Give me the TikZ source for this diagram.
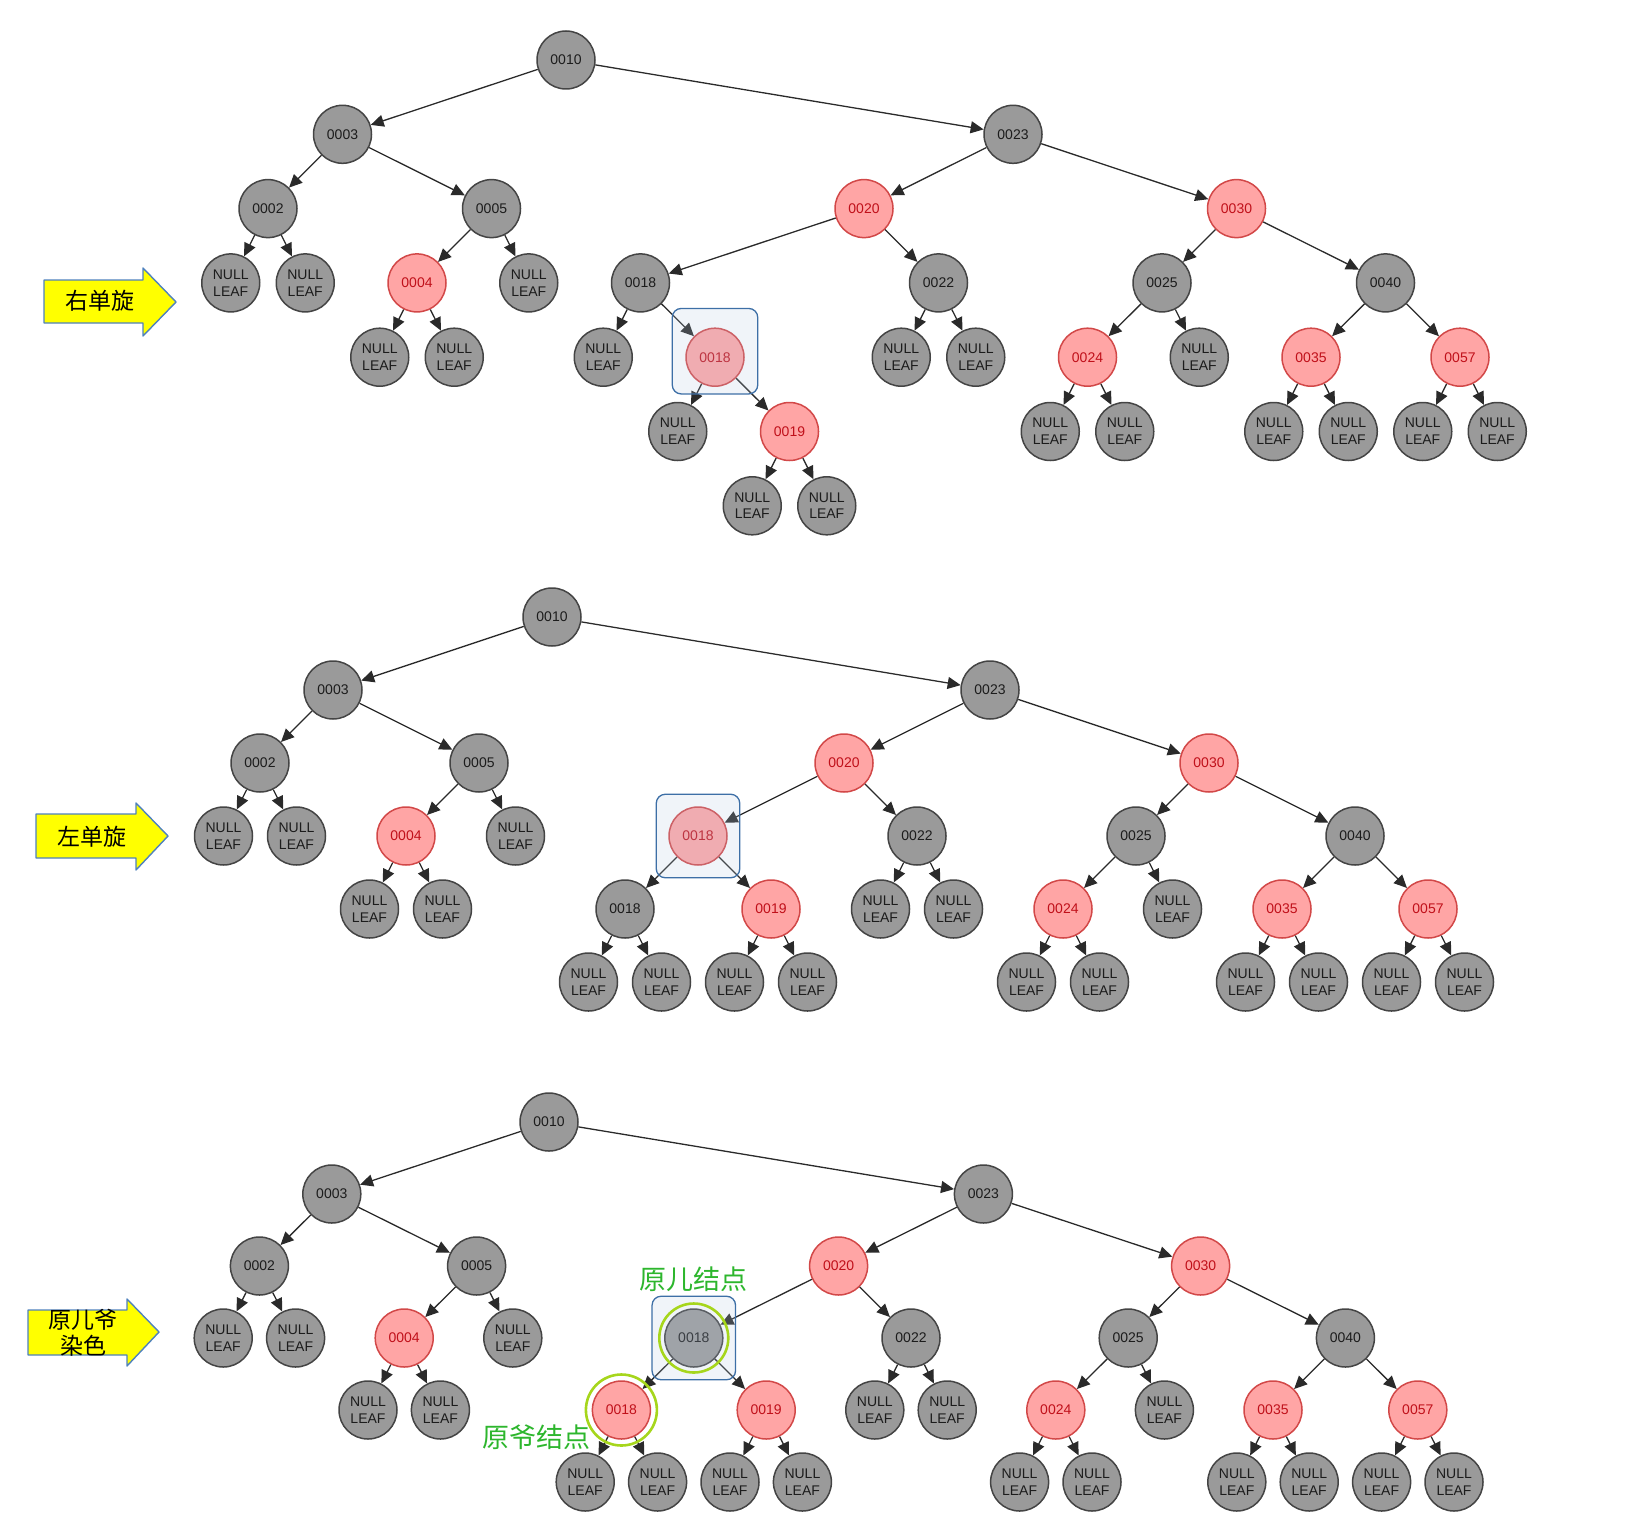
\documentclass[tikz,border=0pt]{standalone}
\usepackage{fontspec}
\setmainfont{Liberation Sans}
\newfontfamily\cjk{Noto Sans CJK SC}
\usetikzlibrary{arrows.meta,fit}
\definecolor{nodegray}{HTML}{9A9A9A}
\definecolor{graydraw}{HTML}{444444}
\definecolor{graytext}{HTML}{1C1C1C}
\definecolor{nodered}{HTML}{FFA5A5}
\definecolor{reddraw}{HTML}{D24848}
\definecolor{redtext}{HTML}{C0101A}
\definecolor{edgecol}{HTML}{2A2A2A}
\definecolor{arrowyellow}{HTML}{FFFF00}
\definecolor{arrowblue}{HTML}{4F81BD}
\definecolor{boxblue}{HTML}{3D6FA6}
\definecolor{boxfill}{HTML}{B4C8E2}
\definecolor{ringgreen}{HTML}{A6D61C}
\definecolor{notegreen}{HTML}{2DB62D}
\tikzset{
  rbnode/.style={circle, minimum size=58pt, inner sep=0pt, line width=1.5pt,
    align=center, font=\fontsize{14}{16.7}\selectfont},
  blacknode/.style={rbnode, draw=graydraw, fill=nodegray, text=graytext},
  rednode/.style={rbnode, draw=reddraw, fill=nodered, text=redtext},
  edge/.style={draw=edgecol, line width=1.3pt, -{Triangle[length=13pt,width=12pt]}},
  turnarrow/.style={draw=arrowblue, fill=arrowyellow, line width=1.4pt},
  turnlabel/.style={font=\cjk\fontsize{23}{26}\selectfont, align=center, inner sep=0pt},
  hlbox/.style={draw=boxblue, line width=1.3pt, fill=boxfill, fill opacity=0.2,
    rounded corners=9pt, inner sep=13pt},
  ring/.style={draw=ringgreen, line width=2.6pt, circle, inner sep=0pt},
  note/.style={font=\cjk\fontsize{27}{30}\selectfont, text=notegreen, inner sep=0pt}
}
\begin{document}
\begin{tikzpicture}[x=1pt, y=-1pt, line join=round]
\useasboundingbox (0,0) rectangle (1632,1536);

% tree 1: right rotation
\draw[turnarrow] (44,280) -- (143,280) -- (143,268) -- (176,302) -- (143,336)
  -- (143,323) -- (44,323) -- cycle;
\node[turnlabel] (rot1) at (100,301) {右单旋};
\begin{scope}[shift={(193.5,60)}, x=37.25pt, y=-74.3pt]
  \foreach \col/\lev/\sty/\txt in {10/0/blacknode/0010, 4/1/blacknode/0003,
      22/1/blacknode/0023, 2/2/blacknode/0002, 8/2/blacknode/0005,
      18/2/rednode/0020, 28/2/rednode/0030, 6/3/rednode/0004,
      12/3/blacknode/0018, 20/3/blacknode/0022, 26/3/blacknode/0025,
      32/3/blacknode/0040, 14/4/rednode/0018, 24/4/rednode/0024,
      30/4/rednode/0035, 34/4/rednode/0057, 16/5/rednode/0019} {
    \node[\sty] (a\col) at (\col,\lev) {\txt};
  }
  \foreach \col/\lev in {1/3, 3/3, 9/3, 5/4, 7/4, 11/4, 19/4, 21/4, 27/4,
      13/5, 23/5, 25/5, 29/5, 31/5, 33/5, 35/5, 15/6, 17/6} {
    \node[blacknode] (a\col) at (\col,\lev) {NULL\\LEAF};
  }
  \foreach \p/\q in {10/4, 10/22, 4/2, 4/8, 2/1, 2/3, 8/6, 8/9, 6/5, 6/7,
      22/18, 22/28, 18/12, 18/20, 12/11, 12/14, 14/13, 14/16, 16/15, 16/17,
      20/19, 20/21, 28/26, 28/32, 26/24, 26/27, 24/23, 24/25, 32/30, 32/34,
      30/29, 30/31, 34/33, 34/35} {
    \draw[edge] (a\p) -- (a\q);
  }
  \node[hlbox, fit=(a14), yshift=6pt] (box1) {};
\end{scope}

% tree 2: left rotation
\draw[turnarrow] (36,814) -- (136,814) -- (136,803) -- (168,836) -- (136,870)
  -- (136,858) -- (36,858) -- cycle;
\node[turnlabel] (rot2) at (92,837) {左单旋};
\begin{scope}[shift={(187,617)}, x=36.5pt, y=-73pt]
  \foreach \col/\lev/\sty/\txt in {10/0/blacknode/0010, 4/1/blacknode/0003,
      22/1/blacknode/0023, 2/2/blacknode/0002, 8/2/blacknode/0005,
      18/2/rednode/0020, 28/2/rednode/0030, 6/3/rednode/0004,
      14/3/rednode/0018, 20/3/blacknode/0022, 26/3/blacknode/0025,
      32/3/blacknode/0040, 12/4/blacknode/0018, 16/4/rednode/0019,
      24/4/rednode/0024, 30/4/rednode/0035, 34/4/rednode/0057} {
    \node[\sty] (b\col) at (\col,\lev) {\txt};
  }
  \foreach \col/\lev in {1/3, 3/3, 9/3, 5/4, 7/4, 19/4, 21/4, 27/4,
      11/5, 13/5, 15/5, 17/5, 23/5, 25/5, 29/5, 31/5, 33/5, 35/5} {
    \node[blacknode] (b\col) at (\col,\lev) {NULL\\LEAF};
  }
  \foreach \p/\q in {10/4, 10/22, 4/2, 4/8, 2/1, 2/3, 8/6, 8/9, 6/5, 6/7,
      22/18, 22/28, 18/14, 18/20, 14/12, 14/16, 12/11, 12/13, 16/15, 16/17,
      20/19, 20/21, 28/26, 28/32, 26/24, 26/27, 24/23, 24/25, 32/30, 32/34,
      30/29, 30/31, 34/33, 34/35} {
    \draw[edge] (b\p) -- (b\q);
  }
  \node[hlbox, fit=(b14), inner sep=12pt] (box2) {};
\end{scope}

% tree 3: recolour
\draw[turnarrow] (28,1310) -- (127,1310) -- (127,1299) -- (159,1332) -- (127,1366)
  -- (127,1355) -- (28,1355) -- cycle;
\node[turnlabel] (rot3) at (83,1333) {原儿爷\\染色};
\begin{scope}[shift={(187,1122)}, x=36.2pt, y=-72pt]
  \foreach \col/\lev/\sty/\txt in {10/0/blacknode/0010, 4/1/blacknode/0003,
      22/1/blacknode/0023, 2/2/blacknode/0002, 8/2/blacknode/0005,
      18/2/rednode/0020, 28/2/rednode/0030, 6/3/rednode/0004,
      14/3/blacknode/0018, 20/3/blacknode/0022, 26/3/blacknode/0025,
      32/3/blacknode/0040, 12/4/rednode/0018, 16/4/rednode/0019,
      24/4/rednode/0024, 30/4/rednode/0035, 34/4/rednode/0057} {
    \node[\sty] (c\col) at (\col,\lev) {\txt};
  }
  \foreach \col/\lev in {1/3, 3/3, 9/3, 5/4, 7/4, 19/4, 21/4, 27/4,
      11/5, 13/5, 15/5, 17/5, 23/5, 25/5, 29/5, 31/5, 33/5, 35/5} {
    \node[blacknode] (c\col) at (\col,\lev) {NULL\\LEAF};
  }
  \foreach \p/\q in {10/4, 10/22, 4/2, 4/8, 2/1, 2/3, 8/6, 8/9, 6/5, 6/7,
      22/18, 22/28, 18/14, 18/20, 14/12, 14/16, 12/11, 12/13, 16/15, 16/17,
      20/19, 20/21, 28/26, 28/32, 26/24, 26/27, 24/23, 24/25, 32/30, 32/34,
      30/29, 30/31, 34/33, 34/35} {
    \draw[edge] (c\p) -- (c\q);
  }
  \node[hlbox, fit=(c14), inner sep=12pt] (box3) {};
  \node[ring, minimum size=69pt] (ring1) at (c14) {};
  \node[ring, minimum size=71pt] (ring2) at (c12) {};
\end{scope}
\node[note] (sonlbl) at (693,1279) {原儿结点};
\node[note] (grandlbl) at (536,1437) {原爷结点};
\end{tikzpicture}
\end{document}
